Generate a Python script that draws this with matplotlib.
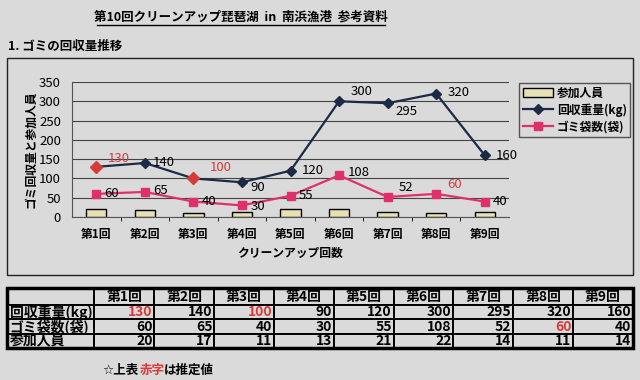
"""
第10回クリーンアップ琵琶湖 参考資料のグラフと表
"""

import matplotlib.pyplot as plt
from matplotlib.patches import Rectangle
from matplotlib.lines import Line2D

plt.rcParams['font.family'] = ['Noto Sans CJK JP', 'DejaVu Sans']

# データ
rounds = ['第1回', '第2回', '第3回', '第4回', '第5回', '第6回', '第7回', '第8回', '第9回']
weight = [130, 140, 100, 90, 120, 300, 295, 320, 160]      # 回収重量(kg)
bags = [60, 65, 40, 30, 55, 108, 52, 60, 40]               # ゴミ袋数(袋)
people = [20, 17, 11, 13, 21, 22, 14, 11, 14]              # 参加人員
weight_est = [True, False, True, False, False, False, False, False, False]
bags_est = [False, False, False, False, False, False, False, True, False]
yticks = [0, 50, 100, 150, 200, 250, 300, 350]

# ラベル位置の微調整 (px)
weight_off = [(8, 6), (6, 0), (12, 8), (6, -4), (8, 0), (8, 7), (6, -6), (8, 1), (8, 0)]
bags_off = [(6, 0), (6, 1), (6, 0), (6, -1), (6, 0), (6, 2), (8, 7), (8, 7), (6, 0)]

BG = '#dadada'
NAVY = '#1c2a45'
PINK = '#e0306a'
RED = '#d83a3a'

fig = plt.figure(figsize=(6.4, 3.8), dpi=100, facecolor=BG)

# タイトル
fig.text(241 / 640, 1 - 17 / 380, '第10回クリーンアップ琵琶湖  in  南浜漁港  参考資料',
         ha='center', va='center', fontsize=9, fontweight='bold')
fig.add_artist(Line2D([97 / 640, 385 / 640], [1 - 25 / 380, 1 - 25 / 380],
                      color='black', lw=1))
fig.text(8 / 640, 1 - 46 / 380, '1. ゴミの回収量推移', ha='left', va='center',
         fontsize=9, fontweight='bold')

# グラフの枠
fig.add_artist(Rectangle((7 / 640, 1 - 275 / 380), 626 / 640, 217 / 380,
                         transform=fig.transFigure, fill=False, ec='#222222', lw=1))

ax = fig.add_axes([72 / 640, 1 - 217 / 380, 437 / 640, 135 / 380])
ax.set_facecolor('none')
x = range(len(rounds))

bar = ax.bar(x, people, width=0.42, color='#e6e0b4', edgecolor='black', lw=1,
             label='参加人員', zorder=2)
l1, = ax.plot(x, weight, color=NAVY, marker='D', ms=5, lw=1.6, label='回収重量(kg)', zorder=3)
l2, = ax.plot(x, bags, color=PINK, marker='s', ms=6, lw=1.6, label='ゴミ袋数(袋)', zorder=3)

# 推定値の点は赤
for i in x:
    if weight_est[i]:
        ax.plot(i, weight[i], marker='D', ms=6, color=RED, zorder=4)

for i in x:
    ax.annotate(str(weight[i]), (i, weight[i]), xytext=weight_off[i], textcoords='offset points',
                ha='left', va='center', fontsize=9.5,
                color=RED if weight_est[i] else 'black')
    ax.annotate(str(bags[i]), (i, bags[i]), xytext=bags_off[i], textcoords='offset points',
                ha='left', va='center', fontsize=9.5,
                color=RED if bags_est[i] else 'black')

ax.set_xlim(-0.5, len(rounds) - 0.5)
ax.set_ylim(0, 350)
ax.set_yticks(yticks)
ax.set_xticks(list(x))
ax.set_xticklabels(rounds, fontsize=8.5, fontweight='bold')
ax.tick_params(axis='y', labelsize=9.5, length=0, pad=8)
ax.tick_params(axis='x', length=0, pad=8)
ax.set_xticks([i + 0.5 for i in range(len(rounds) - 1)], minor=True)
ax.tick_params(axis='x', which='minor', length=3, direction='out')
ax.grid(axis='y', color='#444444', lw=0.8, zorder=0)
for s in ['top', 'right']:
    ax.spines[s].set_visible(False)
ax.spines['left'].set_color('#555555')
ax.spines['bottom'].set_color('#555555')
ax.set_xlabel('クリーンアップ回数', fontsize=8.5, fontweight='bold', labelpad=4)
ax.set_ylabel('ゴミ回収量と参加人員', fontsize=8.5, fontweight='bold', rotation=90,
              va='center')
ax.yaxis.set_label_coords(-0.095, 0.5)

leg = fig.legend([bar, l1, l2], ['参加人員', '回収重量(kg)', 'ゴミ袋数(袋)'],
                 loc='upper left', bbox_to_anchor=(519 / 640, 1 - 83 / 380),
                 borderaxespad=0, fontsize=8.5, frameon=True, fancybox=False,
                 edgecolor='#333333', facecolor=BG, handlelength=2.6, borderpad=0.3,
                 labelspacing=0.3, handletextpad=0.3)
for t in leg.get_texts():
    t.set_fontweight('bold')

# 表
tax = fig.add_axes([7 / 640, 1 - 348 / 380, 626 / 640, 60 / 380])
tax.axis('off')
cells = [[''] + rounds,
         ['回収重量(kg)'] + [str(v) for v in weight],
         ['ゴミ袋数(袋)'] + [str(v) for v in bags],
         ['参加人員'] + [str(v) for v in people]]
tbl = tax.table(cellText=cells, bbox=[0, 0, 1, 1],
                colWidths=[88] + [60.2] * len(rounds))
tbl.auto_set_font_size(False)
for (r, c), cell in tbl.get_celld().items():
    cell.set_facecolor(BG)
    cell.set_edgecolor('black')
    cell.set_linewidth(1.4)
    cell.set_height(17 if r == 0 else 14.3)
    txt = cell.get_text()
    txt.set_fontsize(10)
    txt.set_fontweight('bold')
    if r == 0:
        cell._loc = 'center'
        txt.set_ha('center')
    elif c == 0:
        cell._loc = 'left'
        txt.set_ha('left')
    else:
        cell._loc = 'right'
        txt.set_ha('right')
    cell.PAD = 0.03
    if r == 1 and c > 0 and weight_est[c - 1]:
        txt.set_color(RED)
    if r == 2 and c > 0 and bags_est[c - 1]:
        txt.set_color(RED)
tax.add_patch(Rectangle((0, 0), 1, 1, transform=tax.transAxes, fill=False,
                        ec='black', lw=2.5, clip_on=False))

# 注記
fig.text(102 / 640, 1 - 370 / 380, '☆上表', ha='left', va='center', fontsize=9,
         fontweight='bold', family=['DejaVu Sans', 'Noto Sans CJK JP'])
fig.text(140 / 640, 1 - 370 / 380, '赤字', ha='left', va='center', fontsize=9,
         fontweight='bold', color=RED)
fig.text(164 / 640, 1 - 370 / 380, 'は推定値', ha='left', va='center', fontsize=9,
         fontweight='bold')

fig.savefig('out.png', dpi=100, facecolor=BG)
